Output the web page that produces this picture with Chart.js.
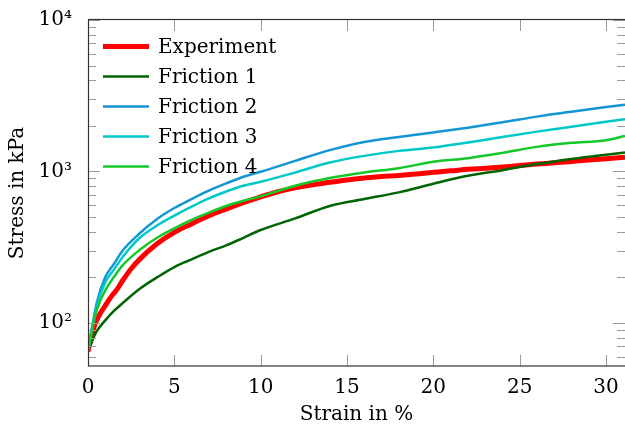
<!DOCTYPE html>
<html>
<head>
<meta charset="utf-8">
<script src="https://cdn.jsdelivr.net/npm/chart.js@4/dist/chart.umd.min.js"></script>
<style>
  html, body { margin: 0; padding: 0; background: #ffffff; }
  #wrap { width: 625px; height: 428px; }
</style>
</head>
<body>
<div id="wrap"><canvas id="c" width="625" height="428"></canvas></div>
<script>
// ---------- data ----------
const simStrain = [0, 0.5, 1, 1.5, 2, 3, 4, 5, 6, 7, 8, 9, 10, 12, 14, 16, 18, 20, 22, 24, 26, 28, 30, 31.1];
const friction1 = [66, 88, 104, 120, 135, 168, 200, 234, 263, 295, 325, 365, 411, 490, 592, 658, 728, 830, 936, 1020, 1119, 1208, 1290, 1334];
const friction2 = [66, 135, 201, 245, 300, 391, 486, 574, 658, 747, 834, 923, 995, 1175, 1383, 1567, 1690, 1810, 1946, 2111, 2302, 2483, 2666, 2760];
const friction3 = [66, 128, 186, 225, 272, 365, 440, 511, 586, 664, 738, 805, 855, 985, 1146, 1268, 1368, 1440, 1552, 1691, 1833, 1977, 2133, 2213];
const friction4 = [66, 121, 164, 201, 240, 304, 365, 422, 479, 535, 592, 641, 685, 805, 905, 985, 1052, 1158, 1225, 1327, 1454, 1545, 1610, 1718];

const expStrain = [0, 0.2, 0.4, 0.7, 1, 1.3, 1.7, 2, 2.5, 3, 4, 5, 6, 7, 8, 9, 10, 11, 12, 13, 14, 15, 16, 17, 18, 19, 20, 21, 22, 23, 24, 25, 26, 27, 28, 29, 30, 31.1];
const experiment = [65, 80, 98, 115, 130, 147, 168, 190, 228, 264, 333, 396, 451, 510, 565, 622, 680, 735, 780, 818, 848, 880, 905, 925, 940, 962, 990, 1010, 1034, 1050, 1069, 1095, 1119, 1140, 1164, 1190, 1213, 1240];

const seriesNames = ['Experiment', 'Friction 1', 'Friction 2', 'Friction 3', 'Friction 4'];

const xTicks = [0, 5, 10, 15, 20, 25, 30];
const yTicks = [100, 1000, 10000];
const yTickLabels = ['10²', '10³', '10⁴'];
const yMinorTicks = [60, 70, 80, 90, 200, 300, 400, 500, 600, 700, 800, 900, 2000, 3000, 4000, 5000, 6000, 7000, 8000, 9000];

// ---------- styling ----------
const FONT = 'DejaVu Serif';
const colors = ['#ff0000', '#006400', '#1496d2', '#00c8c8', '#14c828'];
const widths = [5, 2.5, 2.5, 2.5, 2.5];

function pts(xs, ys) { return xs.map((x, i) => ({ x: x, y: ys[i] })); }

const seriesData = [
  pts(expStrain, experiment),
  pts(simStrain, friction1),
  pts(simStrain, friction2),
  pts(simStrain, friction3),
  pts(simStrain, friction4)
];

const datasets = seriesNames.map((name, i) => ({
  label: name,
  data: seriesData[i],
  borderColor: colors[i],
  backgroundColor: colors[i],
  borderWidth: widths[i],
  pointRadius: 0,
  cubicInterpolationMode: 'monotone',
  fill: false,
  order: 5 - i
}));

// frame + inward tick marks (pgfplots style) + legend inside axes
const axisDecor = {
  id: 'axisDecor',
  afterDatasetsDraw(chart) {
    const ctx = chart.ctx;
    const a = chart.chartArea;
    const xs = chart.scales.x, ys = chart.scales.y;
    ctx.save();
    // ticks
    ctx.strokeStyle = '#9a9a9a';
    ctx.lineWidth = 1;
    ctx.beginPath();
    xTicks.forEach(v => {
      const px = Math.round(xs.getPixelForValue(v)) + 0.5;
      ctx.moveTo(px, a.bottom); ctx.lineTo(px, a.bottom - 11);
      ctx.moveTo(px, a.top); ctx.lineTo(px, a.top + 11);
    });
    yTicks.forEach(v => {
      const py = Math.round(ys.getPixelForValue(v)) + 0.5;
      ctx.moveTo(a.left, py); ctx.lineTo(a.left + 12, py);
      ctx.moveTo(a.right, py); ctx.lineTo(a.right - 12, py);
    });
    yMinorTicks.forEach(v => {
      const py = Math.round(ys.getPixelForValue(v)) + 0.5;
      ctx.moveTo(a.left, py); ctx.lineTo(a.left + 8, py);
      ctx.moveTo(a.right, py); ctx.lineTo(a.right - 8, py);
    });
    ctx.stroke();
    // frame
    ctx.strokeStyle = '#333333';
    ctx.lineWidth = 1.2;
    ctx.strokeRect(Math.round(a.left) + 0.5, Math.round(a.top) - 0.5, a.right - a.left + 2, Math.round(a.bottom - a.top) + 0.5);
    // legend
    ctx.font = '20px "' + FONT + '"';
    ctx.textBaseline = 'middle';
    ctx.textAlign = 'left';
    chart.data.datasets.forEach((ds, i) => {
      const y = 46.5 + i * 30;
      ctx.strokeStyle = ds.borderColor;
      ctx.lineWidth = ds.borderWidth;
      ctx.lineCap = 'butt';
      ctx.beginPath();
      ctx.moveTo(103, y); ctx.lineTo(149, y);
      ctx.stroke();
      ctx.fillStyle = '#000';
      ctx.fillText(ds.label, 158, y + 1);
    });
    ctx.restore();
  }
};

new Chart(document.getElementById('c'), {
  type: 'line',
  data: { datasets: datasets },
  plugins: [axisDecor],
  options: {
    responsive: false,
    devicePixelRatio: 1,
    animation: false,
    layout: { padding: { top: 20, right: 0, bottom: 0, left: 0 } },
    plugins: {
      legend: { display: false },
      tooltip: { enabled: false }
    },
    scales: {
      x: {
        type: 'linear',
        position: 'bottom',
        min: 0,
        max: 31.1,
        grid: { display: false },
        border: { display: false },
        afterBuildTicks: s => { s.ticks = xTicks.map(v => ({ value: v })); },
        afterFit: s => { s.height = 62; },
        ticks: {
          color: '#000',
          padding: 2,
          maxRotation: 0,
          autoSkip: false,
          font: { family: FONT, size: 20 },
          callback: v => String(v)
        },
        title: {
          display: true,
          text: 'Strain in %',
          color: '#000',
          font: { family: FONT, size: 20 },
          padding: { top: 0, bottom: 1 }
        }
      },
      y: {
        type: 'logarithmic',
        position: 'left',
        min: 52,
        max: 10000,
        grid: { display: false },
        border: { display: false },
        afterBuildTicks: s => { s.ticks = yTicks.map(v => ({ value: v })); },
        afterFit: s => { s.width = 88; },
        ticks: {
          color: '#000',
          padding: 8,
          autoSkip: false,
          font: { family: FONT, size: 20 },
          callback: (v) => { const k = yTicks.indexOf(v); return k >= 0 ? yTickLabels[k] : ''; }
        },
        title: {
          display: true,
          text: 'Stress in kPa',
          color: '#000',
          font: { family: FONT, size: 20 },
          padding: { top: 6, bottom: 0 }
        }
      }
    }
  }
});
</script>
</body>
</html>
